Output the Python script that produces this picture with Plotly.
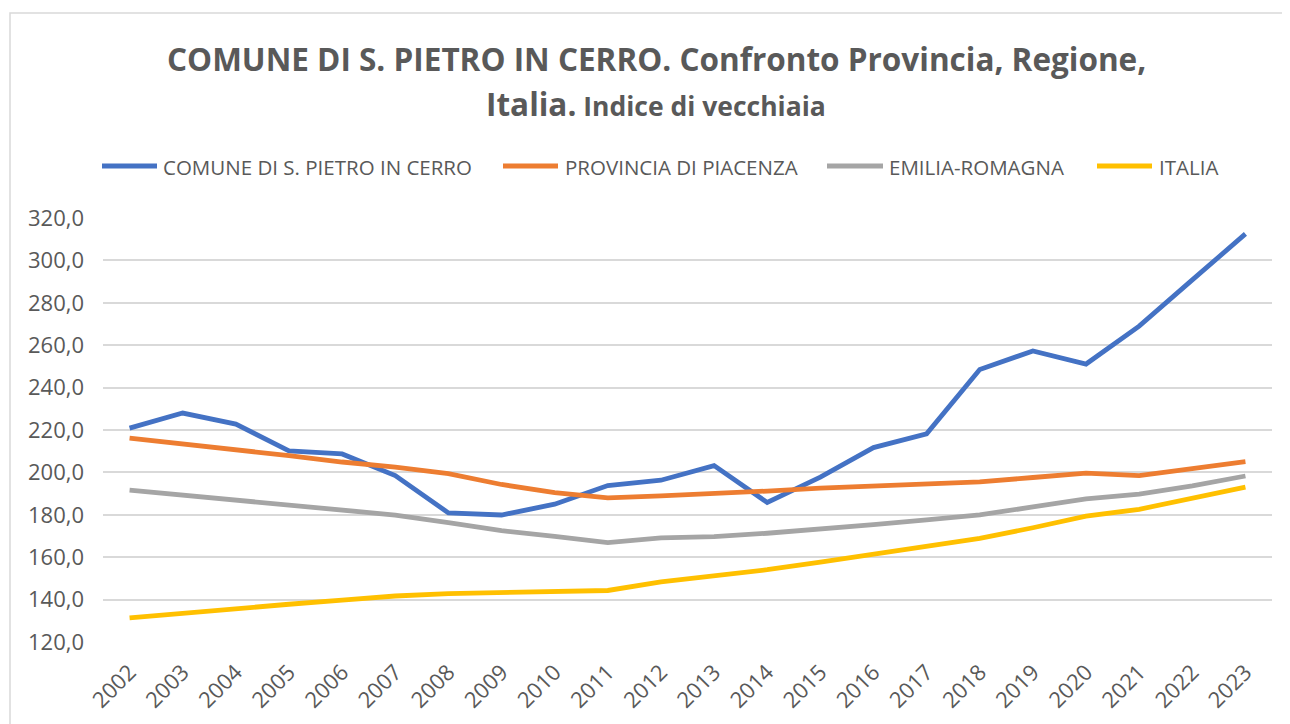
import plotly.graph_objects as go

years = [str(y) for y in range(2002, 2024)]
comune = [220.9, 228.0, 222.8, 210.1, 208.7, 198.5, 180.9, 179.9, 185.0, 193.8, 196.3, 203.2, 185.8, 197.8, 211.7, 218.2, 248.5, 257.3, 251.1, 269.0, 290.8, 312.5]
provincia = [216.2, 213.6, 210.6, 207.9, 204.9, 202.5, 199.4, 194.3, 190.5, 188.0, 188.9, 189.8, 191.2, 192.6, 193.6, 194.5, 195.5, 197.6, 199.7, 198.5, 201.8, 205.1]
regione = [191.6, 189.2, 187.3, 184.4, 182.1, 179.9, 176.3, 172.5, 169.8, 166.9, 169.1, 169.7, 171.3, 173.2, 175.4, 177.6, 180.0, 183.7, 187.5, 189.8, 193.6, 198.3]
italia = [131.4, 133.7, 135.8, 137.8, 139.8, 141.7, 142.8, 143.3, 143.8, 144.3, 148.4, 151.4, 154.1, 157.7, 161.4, 165.3, 168.9, 173.9, 179.4, 182.6, 187.9, 193.1]

series_names = ["COMUNE DI S. PIETRO IN CERRO", "PROVINCIA DI PIACENZA", "EMILIA-ROMAGNA", "ITALIA"]
series_values = [comune, provincia, regione, italia]
colors = ["#4472C4", "#ED7D31", "#A5A5A5", "#FFC000"]
legend_line_x = [(102, 157), (503, 558), (827, 883), (1097, 1152)]
legend_text_x = [161, 563, 887, 1157]

FONT = "Open Sans, sans-serif"
GRAY = "#595959"

W, H = 1290, 724
OFF = 8  # page body margin
L, R, T, B = 95, 26, 210, 90
PW, PH = W - L - R, H - T - B

def py(sy):
    return (H - B - (sy - OFF)) / PH

def px(sx):
    return ((sx - OFF) - L) / PW

fig = go.Figure()
for name, vals, col in zip(series_names, series_values, colors):
    fig.add_trace(go.Scatter(x=years, y=vals, name=name, mode="lines",
                             line=dict(color=col, width=4.8), showlegend=False))

fig.update_layout(
    width=W, height=H,
    margin=dict(l=L, r=R, t=T, b=B, autoexpand=False),
    paper_bgcolor="white", plot_bgcolor="white",
    font=dict(family=FONT, color=GRAY, size=22),
    showlegend=False,
    xaxis=dict(type="category", range=[-0.5, 21.5], tickangle=-45, showgrid=False,
               zeroline=False, showline=False, ticks="", ticklabelstandoff=12,
               tickfont=dict(size=22, color=GRAY)),
    yaxis=dict(range=[120, 320], dtick=20, tickformat=".1f",
               showgrid=True, gridcolor="#D9D9D9", gridwidth=1.8, zeroline=False,
               showline=False, ticks="", ticklabelstandoff=18,
               tickfont=dict(size=22, color=GRAY)),
    separators=",.",
)

# title
fig.add_annotation(xref="paper", yref="paper", x=px(656), y=py(58),
                   text="<b>COMUNE DI S. PIETRO IN CERRO. Confronto Provincia, Regione,</b>",
                   showarrow=False, font=dict(size=31.5, color=GRAY, family=FONT),
                   xanchor="center", yanchor="middle")
fig.add_annotation(xref="paper", yref="paper", x=px(656), y=py(103),
                   text="<b>Italia.</b><b><span style='font-size:26.5px'> Indice di vecchiaia</span></b>",
                   showarrow=False, font=dict(size=31.5, color=GRAY, family=FONT),
                   xanchor="center", yanchor="middle")

# legend drawn manually
for name, col, (x0, x1), tx in zip(series_names, colors, legend_line_x, legend_text_x):
    fig.add_shape(type="line", xref="paper", yref="paper",
                  x0=px(x0), x1=px(x1), y0=py(166), y1=py(166),
                  line=dict(color=col, width=4.8))
    fig.add_annotation(xref="paper", yref="paper", x=px(tx), y=py(167),
                       text=name, showarrow=False, xanchor="left", yanchor="middle",
                       font=dict(size=20.5, color=GRAY, family=FONT))

# chart border
fig.add_shape(type="rect", xref="paper", yref="paper",
              x0=px(10), x1=px(1287), y0=py(760), y1=py(13),
              line=dict(color="#D9D9D9", width=1.5), layer="below")

fig.write_html("out.html")
